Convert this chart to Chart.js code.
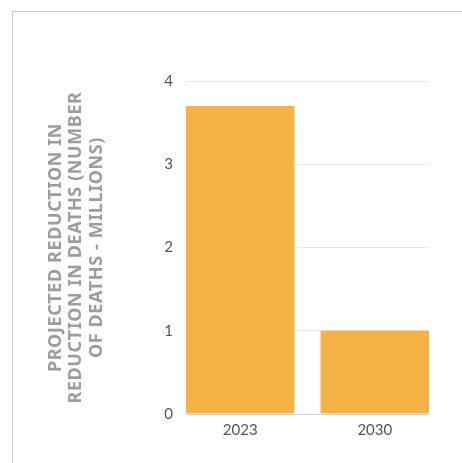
<!DOCTYPE html>
<html>
<head>
<meta charset="utf-8">
<script src="https://cdn.jsdelivr.net/npm/chart.js@4"></script>
<style>
    html, body { margin: 0; padding: 0; background: #fff; }
    .frame { position: relative; width: 462px; height: 463px; overflow: hidden; }
    .frame::before {
        content: ''; position: absolute; left: 12px; top: 11px; right: -2px; bottom: -2px;
        border-left: 1.5px solid #c9c9d1; border-top: 1.5px solid #c9c9d1;
    }
    canvas { position: absolute; left: 0; top: 0; }
</style>
</head>
<body>
<div class="frame"><canvas id="deathsChart" width="462" height="463"></canvas></div>
<script>
// ================================
// Data
// ================================
const years = ['2023', '2030'];
const reductions = [3.7, 1.0];
const yTicks = [0, 1, 2, 3, 4];
const axisTitle = ['PROJECTED REDUCTION IN', 'REDUCTION IN DEATHS (NUMBER', 'OF DEATHS - MILLIONS)'];

const barColor = '#f6b245';
const tickColor = '#555555';

// spaced-out letters on the y axis title only
const titleSpacing = {
    id: 'titleSpacing',
    afterLayout(chart) {
        const scale = chart.scales.y;
        if (scale._spaced) return;
        const orig = scale.drawTitle;
        scale.drawTitle = function () {
            this.ctx.save();
            this.ctx.letterSpacing = '0.6px';
            orig.apply(this, arguments);
            this.ctx.restore();
        };
        scale._spaced = true;
    }
};

const ctx = document.getElementById('deathsChart').getContext('2d');

new Chart(ctx, {
    type: 'bar',
    data: {
        datasets: [{
            data: reductions.map((v, i) => ({ x: i, y: v })),
            backgroundColor: barColor,
            borderWidth: 0,
            categoryPercentage: 1,
            barPercentage: 0.806
        }]
    },
    options: {
        responsive: false,
        animation: false,
        layout: { padding: { left: 46, top: 81, right: 33, bottom: 0 } },
        plugins: { legend: { display: false }, tooltip: { enabled: false } },
        scales: {
            x: {
                type: 'linear',
                offset: false,
                min: -0.403,
                max: 1.403,
                grid: { display: false, drawTicks: false },
                border: { display: true, color: '#cfcfd4', width: 1 },
                afterFit: s => { s.height = 463 - 414; },
                ticks: {
                    stepSize: 1,
                    includeBounds: false,
                    padding: 7,
                    color: tickColor,
                    font: { family: 'Lato', size: 15 },
                    callback: v => years[v] ?? ''
                }
            },
            y: {
                min: yTicks[0],
                max: yTicks[yTicks.length - 1],
                grid: { color: '#e9e9ec', drawTicks: false },
                border: { display: false },
                afterFit: s => { s.width = 186 - 46; },
                ticks: {
                    stepSize: 1,
                    padding: 13,
                    color: tickColor,
                    font: { family: 'Lato', size: 15 }
                },
                title: {
                    display: true,
                    text: axisTitle,
                    color: '#9d9d9f',
                    padding: 0,
                    font: { family: "'Noto Sans'", size: 18, weight: 'bold', lineHeight: 1.12 }
                }
            }
        }
    },
    plugins: [titleSpacing]
});
</script>
</body>
</html>
